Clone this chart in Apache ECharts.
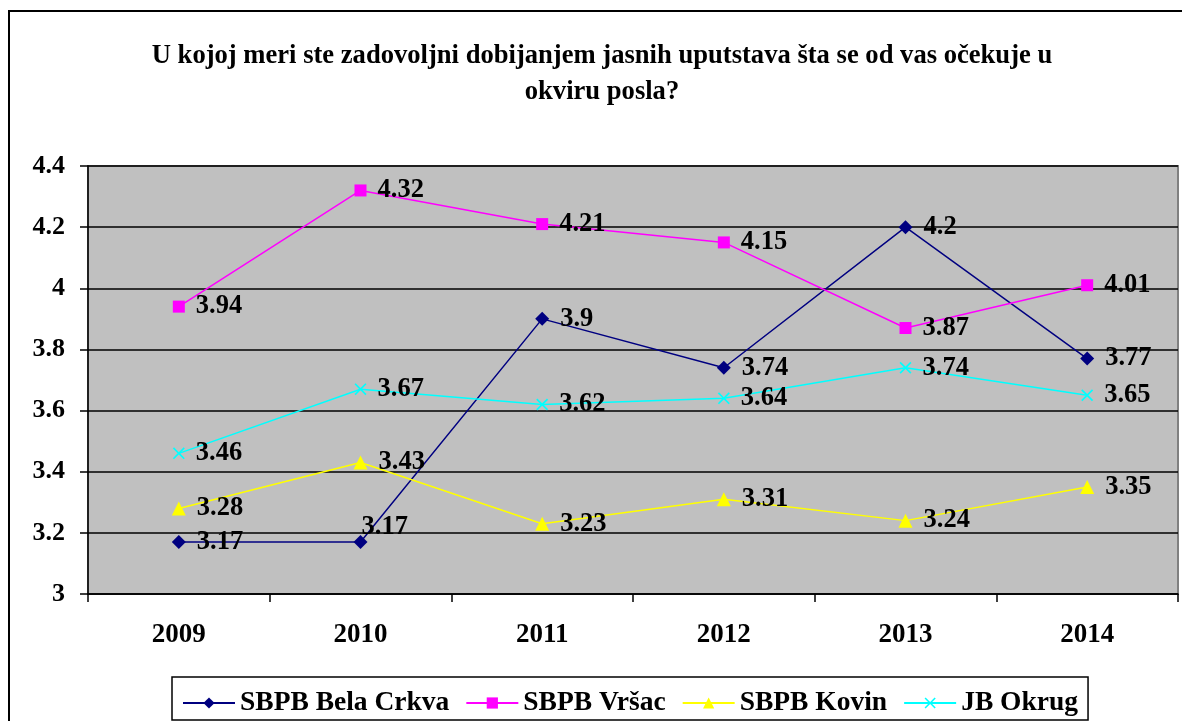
<!DOCTYPE html>
<html>
<head>
<meta charset="utf-8">
<script src="https://cdn.jsdelivr.net/npm/echarts@6/dist/echarts.min.js"></script>
<style>
  html, body { margin: 0; padding: 0; background: #fff; }
  #chart { width: 1182px; height: 721px; }
</style>
</head>
<body>
<div id="chart"></div>
<script>
// podaci sa slike
const years = ["2009", "2010", "2011", "2012", "2013", "2014"];
const belaCrkva = [3.17, 3.17, 3.9, 3.74, 4.2, 3.77];
const vrsac = [3.94, 4.32, 4.21, 4.15, 3.87, 4.01];
const kovin = [3.28, 3.43, 3.23, 3.31, 3.24, 3.35];
const jbOkrug = [3.46, 3.67, 3.62, 3.64, 3.74, 3.65];

const font = "'Liberation Serif', 'Times New Roman', serif";
const crossPath = "path://M0,1L1,0L5,4L9,0L10,1L6,5L10,9L9,10L5,6L1,10L0,9L4,5Z";

const chart = echarts.init(document.getElementById("chart"));

const labelStyle = {
  show: true,
  position: "right",
  distance: 11,
  color: "#000",
  fontFamily: font,
  fontWeight: "bold",
  fontSize: 26.5,
};

function makeSeries(name, values, color, symbol, size) {
  return {
    name: name,
    type: "line",
    data: values,
    symbol: symbol,
    symbolSize: size,
    lineStyle: { color: color, width: 1.5 },
    itemStyle: { color: color },
    label: labelStyle,
    emphasis: { disabled: true },
    z: 3,
  };
}

const s1 = makeSeries("SBPB Bela Crkva", belaCrkva, "#000080", "diamond", 14);
// oznaka za 2010 je pomerena gore
s1.data = belaCrkva.map((v, i) =>
  i === 1 ? { value: v, label: { offset: [-17, -15] } } : v
);

const option = {
  backgroundColor: "#fff",
  animation: false,
  title: {
    text: "U kojoj meri ste zadovoljni dobijanjem jasnih uputstava šta se od vas očekuje u\nokviru posla?",
    left: 597,
    top: 33,
    textAlign: "center",
    textStyle: {
      fontFamily: font,
      fontWeight: "bold",
      fontSize: 26.6,
      lineHeight: 36,
      color: "#000",
    },
  },
  legend: {
    left: 172,
    top: 677,
    padding: [12, 10, 3, 10],
    itemWidth: 52,
    itemHeight: 14,
    itemGap: 16,
    borderColor: "#000",
    borderWidth: 1.5,
    textStyle: {
      fontFamily: font,
      fontWeight: "bold",
      fontSize: 27.5,
      color: "#000",
    },
  },
  grid: {
    left: 88,
    right: 4,
    top: 166,
    bottom: 127,
    show: true,
    backgroundColor: "#C0C0C0",
    borderColor: "#808080",
    borderWidth: 2,
  },
  xAxis: {
    type: "category",
    data: years,
    boundaryGap: true,
    axisLine: { lineStyle: { color: "#000", width: 1.5 } },
    axisTick: { show: true, length: 8, interval: 0, lineStyle: { color: "#000", width: 1.5 } },
    axisLabel: {
      margin: 28,
      color: "#000",
      fontFamily: font,
      fontWeight: "bold",
      fontSize: 27,
    },
  },
  yAxis: {
    type: "value",
    min: 3,
    max: 4.4,
    interval: 0.2,
    axisLine: { show: true, lineStyle: { color: "#000", width: 1.5 } },
    axisTick: { show: true, length: 8, lineStyle: { color: "#000", width: 1.5 } },
    splitLine: { lineStyle: { color: "#000", width: 1.5 } },
    axisLabel: {
      margin: 23,
      color: "#000",
      fontFamily: font,
      fontWeight: "bold",
      fontSize: 26,
    },
  },
  graphic: [
    {
      type: "rect",
      shape: { x: 9, y: 11, width: 1200, height: 760 },
      style: { fill: "none", stroke: "#000", lineWidth: 2 },
      silent: true,
      z: -1,
    },
  ],
  series: [
    s1,
    makeSeries("SBPB Vršac", vrsac, "#FF00FF", "rect", 12),
    makeSeries("SBPB Kovin", kovin, "#FFFF00", "triangle", 14),
    makeSeries("JB Okrug", jbOkrug, "#00FFFF", crossPath, 12),
  ],
};

chart.setOption(option);
</script>
</body>
</html>
